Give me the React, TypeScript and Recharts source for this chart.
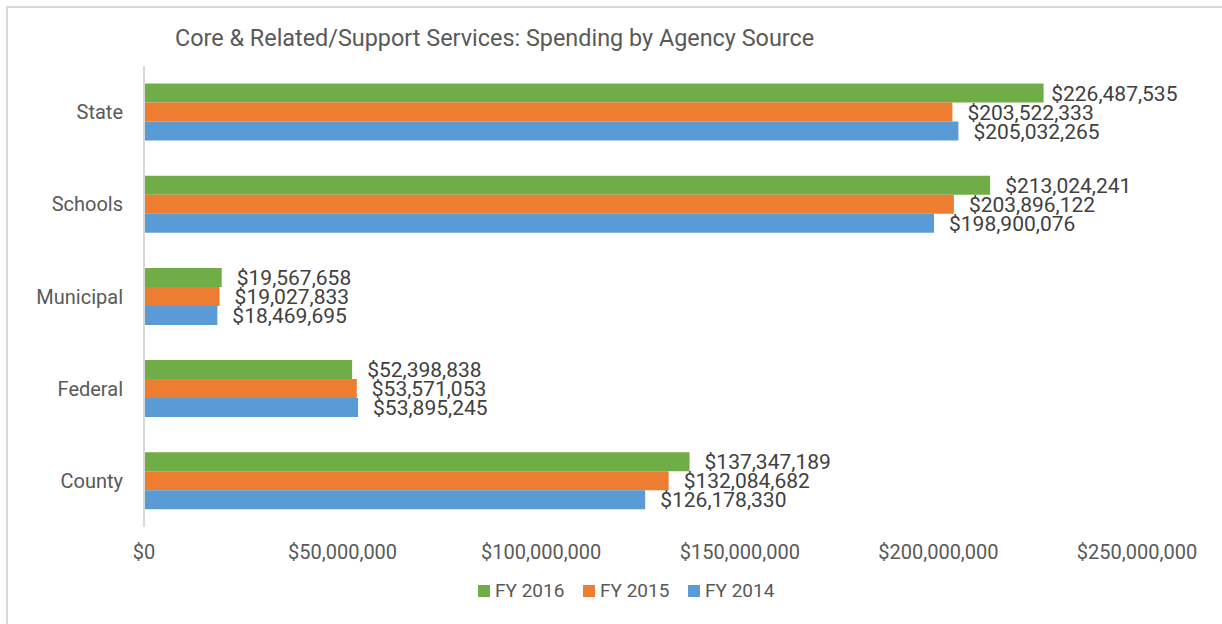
import React from "react";
import { Bar, BarChart, LabelList, Legend, XAxis, YAxis } from "recharts";

const agencies = ["State", "Schools", "Municipal", "Federal", "County"];
const fy2016 = [226487535, 213024241, 19567658, 52398838, 137347189];
const fy2015 = [203522333, 203896122, 19027833, 53571053, 132084682];
const fy2014 = [205032265, 198900076, 18469695, 53895245, 126178330];
const xTicks = [0, 50000000, 100000000, 150000000, 200000000, 250000000];

const series = [
  { key: "fy2016", name: "FY 2016", color: "#70AD47" },
  { key: "fy2015", name: "FY 2015", color: "#ED7D31" },
  { key: "fy2014", name: "FY 2014", color: "#5B9BD5" },
];

const data = agencies.map((agency, i) => ({
  agency,
  fy2016: fy2016[i],
  fy2015: fy2015[i],
  fy2014: fy2014[i],
}));

const FONT = "Roboto, sans-serif";
const money = (v: any) => "$" + Number(v).toLocaleString("en-US");

// value label to the right of the bar; pulled back a little if it would run past the plot edge (like Excel does)
const ValueLabel = (props: any) => {
  const { x, y, width, height, value } = props;
  const text = money(value);
  const approxW = text.length * 10.9;
  let tx = x + width + 15;
  if (tx + approxW > 1182) tx = Math.max(x + width + 7, 1182 - approxW);
  return (
    <text
      x={tx}
      y={y + height / 2}
      dy="0.36em"
      fontSize={21}
      fontFamily={FONT}
      fill="#404040"
    >
      {text}
    </text>
  );
};

// legend drawn as simple squares + names, like the Excel original
const LegendContent = () => (
  <div
    style={{
      display: "flex",
      paddingLeft: 478,
      fontFamily: FONT,
      fontSize: 19,
      color: "#595959",
      lineHeight: "24px",
    }}
  >
    {series.map((s) => (
      <div key={s.key} style={{ display: "flex", alignItems: "center", width: 105 }}>
        <span
          style={{ width: 12, height: 12, background: s.color, marginRight: 5, display: "inline-block" }}
        />
        {s.name}
      </div>
    ))}
  </div>
);

export default function App() {
  return (
    <div style={{ position: "absolute", left: 0, top: 0, width: 1222, height: 624, background: "#fff", overflow: "hidden" }}>
      <div
        style={{
          position: "absolute",
          left: 6,
          top: 6,
          width: 1240,
          height: 640,
          border: "2px solid #d9d9d9",
        }}
      />
      <div
        style={{
          position: "absolute",
          left: 175,
          top: 24,
          fontFamily: FONT,
          fontSize: 23.4,
          color: "#595959",
          whiteSpace: "nowrap",
        }}
      >
        Core &amp; Related/Support Services: Spending by Agency Source
      </div>
      <div style={{ position: "absolute", left: 0, top: 0 }}>
        <BarChart
          width={1222}
          height={624}
          data={data}
          layout="vertical"
          margin={{ top: 66, right: 85, bottom: 21, left: 24 }}
          barCategoryGap="19%"
          barGap={0}
        >
          <XAxis
            type="number"
            domain={[0, 250000000]}
            ticks={xTicks}
            tickFormatter={money}
            axisLine={false}
            tickLine={false}
            tickSize={0}
            tickMargin={18}
            height={52}
            tick={{ fontSize: 20, fill: "#595959", fontFamily: FONT }}
            interval={0}
          />
          <YAxis
            type="category"
            dataKey="agency"
            width={120}
            axisLine={{ stroke: "#d9d9d9", strokeWidth: 2 }}
            tickLine={false}
            tickSize={0}
            tickMargin={21}
            tick={{ fontSize: 20, fill: "#595959", fontFamily: FONT }}
          />
          <Legend verticalAlign="bottom" content={<LegendContent />} wrapperStyle={{ left: 0, width: 1222 }} />
          {series.map((s) => (
            <Bar key={s.key} dataKey={s.key} name={s.name} fill={s.color} isAnimationActive={false}>
              <LabelList dataKey={s.key} content={<ValueLabel />} />
            </Bar>
          ))}
        </BarChart>
      </div>
    </div>
  );
}
